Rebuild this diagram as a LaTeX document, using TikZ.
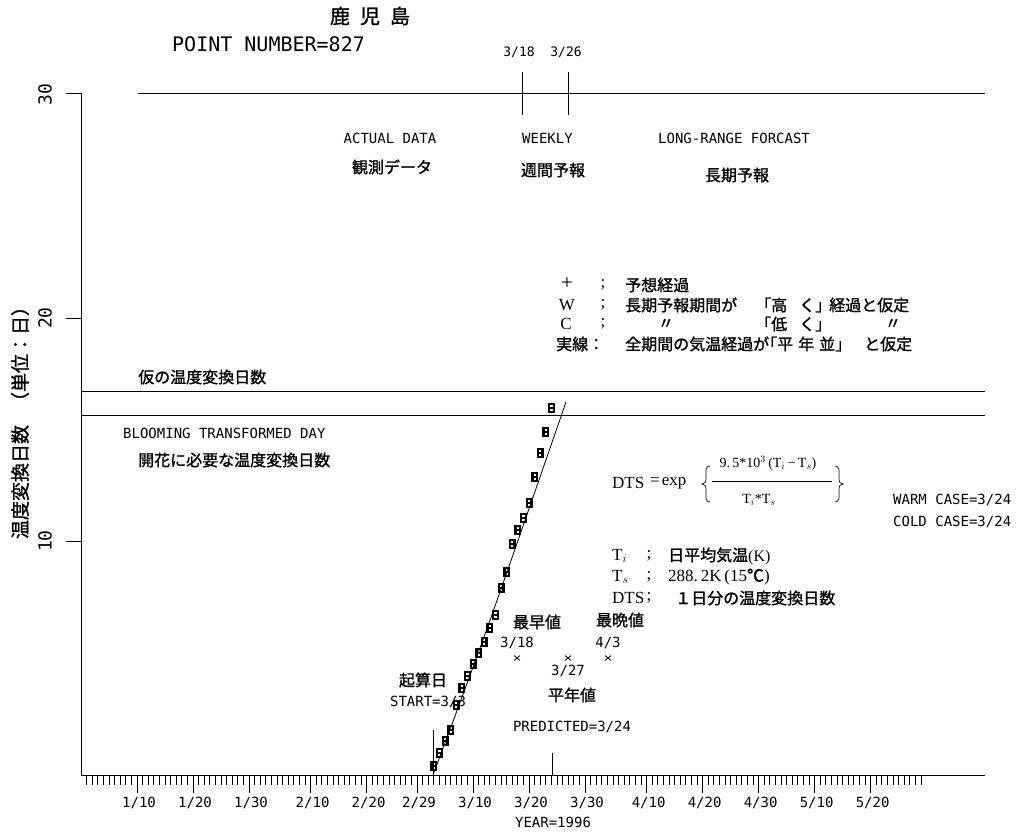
\documentclass[tikz,border=0pt]{standalone}
\usepackage{fontspec}
\setmainfont{Liberation Serif}
\newfontfamily\plotfont{DejaVu Sans Mono}
\newfontfamily\jpfont{Noto Sans CJK JP}[FakeBold=1.2]
\usetikzlibrary{shapes.misc}

\begin{document}
\begin{tikzpicture}[x=1pt,y=-1pt,
    plotter/.style={font=\plotfont\fontsize{14}{16}\selectfont, inner sep=0pt},
    jp text/.style={font=\jpfont\fontsize{16}{18}\selectfont, inner sep=0pt},
    serif text/.style={font=\fontsize{17}{19}\selectfont, inner sep=0pt},
    datamark/.style={draw, fill=black, rectangle, line width=0.8pt, minimum width=6pt, minimum height=9pt, inner sep=0pt,
        path picture={
            \fill[white] (path picture bounding box.center) ++(-1.1pt,0.7pt) rectangle ++(2.2pt,2pt);
            \fill[white] (path picture bounding box.center) ++(-1.1pt,-0.7pt) rectangle ++(2.2pt,-2pt);}},
    minmark/.style={draw, cross out, line width=0.8pt, minimum width=5pt, minimum height=4pt, inner sep=0pt},
    thin line/.style={line width=0.8pt}]

    \useasboundingbox (0,0) rectangle (1022,834);

    \node[jp text, font=\jpfont\fontsize{20}{22}\selectfont] (station) at (370,16) {鹿\hspace{10pt}児\hspace{10pt}島};
    \node[plotter, font=\plotfont\fontsize{20}{22}\selectfont, anchor=west] (point) at (172,44) {POINT NUMBER=827};

    % axes
    \coordinate (origin) at (81,775);
    \coordinate (ytop) at (81,93);
    \coordinate (xend) at (985,775);
    \draw[thin line] (ytop) -- (origin) -- (xend);
    \draw[thin line] (66,93) -- (ytop);
    \draw[thin line] (66,318) -- (81,318);
    \draw[thin line] (66,541) -- (81,541);
    \node[plotter, font=\plotfont\fontsize{18}{20}\selectfont, rotate=90] (y30) at (45,95) {30};
    \node[plotter, font=\plotfont\fontsize{18}{20}\selectfont, rotate=90] (y20) at (45,318) {20};
    \node[plotter, font=\plotfont\fontsize{18}{20}\selectfont, rotate=90] (y10) at (45,541) {10};
    \node[jp text, font=\jpfont\fontsize{19}{21}\selectfont, rotate=90] (ytitle) at (20,418) {温度変換日数\hspace{14pt}（単位：日）};

    % top period bar
    \draw[thin line] (138,93) -- (985,93);
    \draw[thin line] (522,72) -- (522,115);
    \draw[thin line] (568,72) -- (568,115);
    \node[plotter, font=\plotfont\fontsize{13}{15}\selectfont] (t318) at (519,52) {3/18};
    \node[plotter, font=\plotfont\fontsize{13}{15}\selectfont] (t326) at (566,52) {3/26};
    \node[plotter] (actual) at (390,138) {ACTUAL DATA};
    \node[jp text] (actualjp) at (392,167) {観測データ};
    \node[plotter, anchor=west] (weekly) at (522,138) {WEEKLY};
    \node[jp text] (weeklyjp) at (553,170) {週間予報};
    \node[plotter, anchor=west] (longrange) at (658,138) {LONG-RANGE FORCAST};
    \node[jp text] (longrangejp) at (737,175) {長期予報};

    % legend
    \node[serif text, font=\fontsize{21}{23}\selectfont] (lgplus) at (567,284) {+};
    \node[serif text] (lgw) at (567,305) {W};
    \node[serif text] (lgc) at (566,324) {C};
    \node[serif text] at (603,285) {;};
    \node[serif text] at (603,305) {;};
    \node[serif text] at (603,324) {;};
    \node[jp text, anchor=west] (lgplustxt) at (625,285) {予想経過};
    \node[jp text, anchor=west] (lgwtxt) at (625,305) {長期予報期間が};
    \node[jp text, anchor=west] (lgwhigh) at (755,305) {「高\hspace{12pt}く」};
    \node[jp text, anchor=west] (lgwtail) at (829,305) {経過と仮定};
    \node[jp text] (lgcditto) at (666,324) {〃};
    \node[jp text, anchor=west] (lgclow) at (755,324) {「低\hspace{12pt}く」};
    \node[jp text] (lgcditto2) at (893,324) {〃};
    \node[jp text, anchor=west] (lgline) at (556,344) {実線：};
    \node[jp text, anchor=west] (lglinetxt) at (625,344) {全期間の気温経過が};
    \node[jp text, anchor=west] (lglinenorm) at (761,344) {「平\hspace{5pt}年\hspace{5pt}並」};
    \node[jp text, anchor=west] (lglinetail) at (864,344) {と仮定};

    % threshold lines
    \draw[thin line] (81,391) -- (985,391);
    \draw[thin line] (81,415) -- (985,415);
    \node[jp text, anchor=west] (tempday) at (138,377) {仮の温度変換日数};
    \node[plotter, anchor=west] (blooming) at (123,433) {BLOOMING TRANSFORMED DAY};
    \node[jp text, anchor=west] (bloomingjp) at (138,460) {開花に必要な温度変換日数};

    % formula
    \node[serif text, anchor=west] (dts) at (612,483) {DTS};
    \node[serif text, anchor=west] (exp) at (650,483) {=\hspace{2pt}exp};
    \draw[line width=0.7pt] (710,466) .. controls (705,466) and (706,471) .. (706,478)
        .. controls (706,482) and (705,484) .. (702,484)
        .. controls (705,484) and (706,486) .. (706,490)
        .. controls (706,497) and (705,502) .. (710,502);
    \node[serif text, font=\fontsize{14}{16}\selectfont] (numer) at (768,463) {9.\,5*10$^{3}$\,(T$_{i}$\,−\,T$_{s}$)};
    \node[serif text, font=\fontsize{14}{16}\selectfont] (denom) at (759,500) {T$_{i}$*T$_{s}$};
    \draw[line width=0.6pt] (712,481) -- (832,481);
    \draw[line width=0.7pt] (835,466) .. controls (840,466) and (839,471) .. (839,478)
        .. controls (839,482) and (840,484) .. (843,484)
        .. controls (840,484) and (839,486) .. (839,490)
        .. controls (839,497) and (840,502) .. (835,502);

    \node[plotter, anchor=west] (warm) at (893,500) {WARM CASE=3/24};
    \node[plotter, anchor=west] (cold) at (893,522) {COLD CASE=3/24};

    \node[serif text, anchor=west] (vti) at (612,556) {T$_{i}$};
    \node[serif text] at (649,556) {;};
    \node[jp text, anchor=west] (vtitxt) at (668,556) {日平均気温{\rmfamily (K)}};
    \node[serif text, anchor=west] (vts) at (612,577) {T$_{s}$};
    \node[serif text] at (649,577) {;};
    \node[serif text, anchor=west] (vtstxt) at (668,577) {288.\,2K\,(15{\jpfont ℃})};
    \node[serif text, anchor=west] (vdts) at (612,598) {DTS};
    \node[serif text] at (649,598) {;};
    \node[jp text, anchor=west] (vdtstxt) at (675,598) {１日分の温度変換日数};

    % observed points and fitted curve
    \foreach \d/\yy in {63/766,64/753,65/741,66/730,67/705,68/688,69/676,70/664,71/653,72/642,73/628,
                        74/615,75/588,76/572,77/544,78/530,79/518,80/503,81/477,82/453,83/432,84/408}
        \node[datamark] (m\d) at ({81+5.6*\d},\yy) {};
    \draw[thin line] plot[smooth] coordinates {(433,775) (455,716) (484,637) (507,572) (531,503) (566,402)};

    % earliest, normal, latest
    \node[minmark] (earliest) at (517,658) {};
    \node[minmark] (normal) at (568,658) {};
    \node[minmark] (latest) at (608,658) {};
    \node[jp text] (earliestjp) at (537,622) {最早値};
    \node[plotter] (earliestlab) at (517,643) {3/18};
    \node[jp text] (latestjp) at (620,620) {最晩値};
    \node[plotter] (latestlab) at (608,643) {4/3};
    \node[plotter] (normallab) at (568,671) {3/27};
    \node[jp text] (normaljp) at (572,695) {平年値};

    % start and predicted days
    \draw[thin line] (433,730) -- (433,775);
    \draw[thin line] (552,753) -- (552,775);
    \node[jp text] (startjp) at (423,680) {起算日};
    \node[plotter] (start) at (428,702) {START=3/3};
    \node[plotter] (predicted) at (572,727) {PREDICTED=3/24};

    % date axis
    \foreach \d in {1,...,150}
        \draw[thin line] ({81+5.6*\d},775) -- ({81+5.6*\d},785);
    \foreach \d/\lab in {10/{1/10},20/{1/20},30/{1/30},41/{2/10},51/{2/20},60/{2/29},70/{3/10},
                         80/{3/20},90/{3/30},101/{4/10},111/{4/20},121/{4/30},131/{5/10},141/{5/20}} {
        \draw[thin line] ({81+5.6*\d},775) -- ({81+5.6*\d},793);
        \node[plotter] (lab\d) at ({83+5.6*\d},803) {\lab};
    }
    \node[plotter] (year) at (553,822) {YEAR=1996};

\end{tikzpicture}
\end{document}
